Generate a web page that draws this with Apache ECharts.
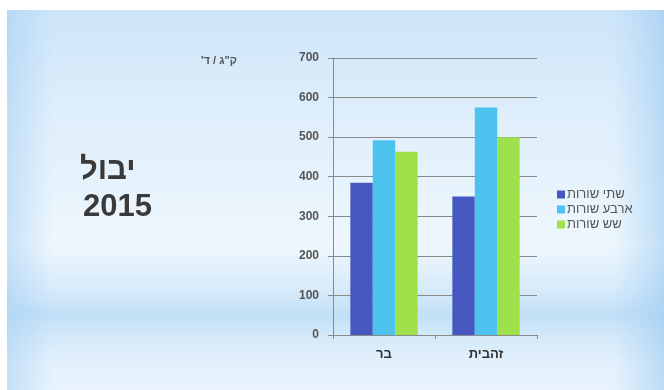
<!DOCTYPE html>
<html>
<head>
    <meta charset="utf-8" />
    <title>יבול 2015</title>
    <style>
        html, body { margin: 0; padding: 0; background: #fff; }
        #chart { width: 664px; height: 390px; }
    </style>
</head>
<body>
    <div id="chart"></div>
    <script src="https://cdn.jsdelivr.net/npm/echarts@6/dist/echarts.min.js"></script>
    <script>
        // data
        var categories = ['בר', 'זהבית'];
        var seriesNames = ['שתי שורות', 'ארבע שורות', 'שש שורות'];
        var twoRows = [385, 350];
        var fourRows = [492, 575];
        var sixRows = [463, 500];
        var yTicks = [0, 100, 200, 300, 400, 500, 600, 700];

        var colors = ['#4658c0', '#4cc2ee', '#9ee14a'];
        var FONT = '"Liberation Sans", "DejaVu Sans", Arial, sans-serif';

        var chart = echarts.init(document.getElementById('chart'));

        var option = {
            backgroundColor: '#ffffff',
            color: colors,
            textStyle: { fontFamily: FONT },
            graphic: [
                // slide background
                {
                    type: 'rect', z: -10, silent: true,
                    shape: { x: 7, y: 10, width: 657, height: 380 },
                    style: {
                        fill: new echarts.graphic.LinearGradient(0, 0, 0, 1, [
                            { offset: 0, color: '#cde5f9' },
                            { offset: 0.3, color: '#e0effb' },
                            { offset: 0.62, color: '#eef7fd' },
                            { offset: 0.74, color: '#d6eafa' },
                            { offset: 0.8, color: '#c2e0f7' },
                            { offset: 0.86, color: '#d4e9f9' },
                            { offset: 0.93, color: '#e4f1fc' },
                            { offset: 1, color: '#e8f3fc' }
                        ])
                    }
                },
                {
                    type: 'rect', z: -9, silent: true,
                    shape: { x: 7, y: 10, width: 657, height: 380 },
                    style: {
                        fill: new echarts.graphic.LinearGradient(0, 0, 1, 0, [
                            { offset: 0, color: 'rgba(160,205,243,0.5)' },
                            { offset: 0.07, color: 'rgba(160,205,243,0)' },
                            { offset: 0.92, color: 'rgba(160,205,243,0)' },
                            { offset: 1, color: 'rgba(150,200,240,0.55)' }
                        ])
                    }
                },
                // title
                {
                    type: 'text', left: 80, top: 155,
                    style: { text: 'יבול', font: 'bold 31px ' + FONT, fill: '#3a3a3a' }
                },
                {
                    type: 'text', left: 83, top: 192,
                    style: { text: '2015', font: 'bold 31px ' + FONT, fill: '#3a3a3a' }
                },
                // unit label (RLM keeps the apostrophe inside the RTL run)
                {
                    type: 'text', left: 201, top: 55,
                    style: { text: 'ק"ג / ד\'\u200F', font: 'bold 11px ' + FONT, fill: '#555' }
                }
            ],
            legend: {
                data: seriesNames,
                orient: 'vertical',
                left: 552,
                top: 183,
                itemWidth: 8,
                itemHeight: 8,
                itemGap: 2,
                icon: 'rect',
                textStyle: { fontSize: 13, color: '#555', fontFamily: FONT, padding: [0, 0, 0, -3] }
            },
            grid: { left: 333, right: 127, top: 58, bottom: 55, containLabel: false },
            xAxis: {
                type: 'category',
                data: categories,
                axisLine: { lineStyle: { color: '#8a8a8a', width: 1 } },
                axisTick: { show: true, length: 4, lineStyle: { color: '#8a8a8a' } },
                axisLabel: { color: '#333', fontSize: 13, fontWeight: 'bold', margin: 13, fontFamily: FONT }
            },
            yAxis: {
                type: 'value',
                min: yTicks[0],
                max: yTicks[yTicks.length - 1],
                interval: 100,
                axisLine: { show: true, lineStyle: { color: '#8a8a8a', width: 1 } },
                axisTick: { show: true, length: 5, lineStyle: { color: '#8a8a8a' } },
                axisLabel: { color: '#555', fontSize: 12, fontWeight: 'bold', margin: 14, fontFamily: FONT },
                splitLine: { show: true, lineStyle: { color: '#8a8a8a', width: 1 } }
            },
            series: [
                { name: seriesNames[0], type: 'bar', data: twoRows, barGap: '0%', barCategoryGap: '34%' },
                { name: seriesNames[1], type: 'bar', data: fourRows, barGap: '0%', barCategoryGap: '34%' },
                { name: seriesNames[2], type: 'bar', data: sixRows, barGap: '0%', barCategoryGap: '34%' }
            ]
        };

        chart.setOption(option);
    </script>
</body>
</html>
